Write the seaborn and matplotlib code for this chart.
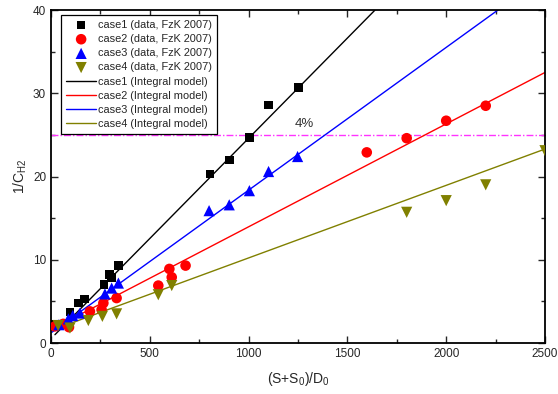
import matplotlib
matplotlib.use("Agg")
import matplotlib.pyplot as plt
import seaborn as sns
import pandas as pd
from matplotlib.ticker import MultipleLocator

sns.set_style("ticks")
plt.rcParams['font.family'] = ['Liberation Sans', 'DejaVu Sans']
plt.rcParams['mathtext.fontset'] = 'custom'
plt.rcParams['mathtext.rm'] = 'Liberation Sans'
plt.rcParams['mathtext.it'] = 'Liberation Sans'

# ---- data ----
case1_x = [20, 50, 96, 138, 169, 268, 296, 306, 341, 805, 902, 1004, 1101, 1252]
case1_y = [2.2, 2.2, 3.7, 4.8, 5.3, 7.0, 8.2, 7.9, 9.3, 20.3, 22.0, 24.7, 28.6, 30.7]

case2_x = [20, 62, 91, 197, 256, 265, 332, 543, 599, 611, 681, 1598, 1800, 2000, 2200]
case2_y = [2.0, 2.3, 1.9, 3.8, 4.0, 4.8, 5.4, 6.9, 8.9, 7.9, 9.3, 22.9, 24.6, 26.7, 28.5]

case3_x = [40, 88, 110, 147, 273, 307, 341, 800, 902, 1004, 1101, 1248]
case3_y = [2.2, 2.9, 3.3, 3.6, 5.9, 6.6, 7.2, 15.9, 16.6, 18.3, 20.6, 22.4]

case4_x = [36, 96, 189, 260, 332, 543, 611, 1800, 2000, 2200, 2500]
case4_y = [2.1, 1.8, 2.7, 3.2, 3.5, 5.8, 6.9, 15.7, 17.1, 19.0, 23.1]

model1_x = [20, 1640]
model1_y = [1.0, 40.0]
model2_x = [0, 2500]
model2_y = [1.6, 32.5]
model3_x = [5, 2262]
model3_y = [1.3, 40.0]
model4_x = [0, 2500]
model4_y = [1.5, 23.3]

limit_y = 25
limit_label = "4%"

data_labels = ["case1 (data, FzK 2007)", "case2 (data, FzK 2007)",
               "case3 (data, FzK 2007)", "case4 (data, FzK 2007)"]
model_labels = ["case1 (Integral model)", "case2 (Integral model)",
                "case3 (Integral model)", "case4 (Integral model)"]

colors = ["#000000", "#ff0000", "#0000ff", "#808000"]
markers = ["s", "o", "^", "v"]
msizes = [38, 58, 65, 65]

fig = plt.figure(figsize=(5.58, 3.94), dpi=100)
ax = fig.add_axes([0.0914, 0.1294, 0.9767 - 0.0914, 0.9746 - 0.1294])

ax.axhline(limit_y, color="#ff33ff", lw=1.0, ls=(0, (5, 1.5, 1, 1.5)), zorder=1)

for mx, my, lab, c in zip([model1_x, model2_x, model3_x, model4_x],
                          [model1_y, model2_y, model3_y, model4_y],
                          model_labels, colors):
    df = pd.DataFrame({"x": mx, "y": my})
    sns.lineplot(data=df, x="x", y="y", ax=ax, color=c, lw=1.0, label=lab, zorder=2)

for dx, dy, lab, c, m, s in zip([case1_x, case2_x, case3_x, case4_x],
                                [case1_y, case2_y, case3_y, case4_y],
                                data_labels, colors, markers, msizes):
    df = pd.DataFrame({"x": dx, "y": dy})
    sns.scatterplot(data=df, x="x", y="y", ax=ax, color=c, marker=m, s=s,
                    edgecolor="none", linewidth=0, label=lab, zorder=3)

ax.text(1235, 25.9, limit_label, fontsize=9.5, color="#333333")

ax.set_xlim(0, 2500)
ax.set_ylim(0, 40)
ax.xaxis.set_major_locator(MultipleLocator(500))
ax.xaxis.set_minor_locator(MultipleLocator(250))
ax.yaxis.set_major_locator(MultipleLocator(10))
ax.yaxis.set_minor_locator(MultipleLocator(5))
ax.tick_params(which="both", direction="in", top=True, right=True, labelsize=8.5, width=1.0)
ax.tick_params(which="major", length=5)
ax.tick_params(which="minor", length=3)
for sp in ax.spines.values():
    sp.set_visible(True)
    sp.set_linewidth(1.3)
    sp.set_color("black")

ax.set_xlabel(r"(S+S$_{\mathregular{0}}$)/D$_{\mathregular{0}}$", fontsize=10, labelpad=7)
ax.set_ylabel(r"1/C$_{\mathregular{H2}}$", fontsize=10, labelpad=3)

handles, labels = ax.get_legend_handles_labels()
order = [labels.index(l) for l in data_labels + model_labels]
leg = ax.legend([handles[i] for i in order], [labels[i] for i in order],
                loc="upper left", bbox_to_anchor=(0.021, 0.985), fontsize=7.9,
                frameon=True, fancybox=False, edgecolor="black", framealpha=1,
                handlelength=2.7, handletextpad=0.2, labelspacing=0.38,
                borderpad=0.45, borderaxespad=0.0)
leg.get_frame().set_linewidth(0.9)

fig.savefig("out.png", dpi=100, facecolor="white")
